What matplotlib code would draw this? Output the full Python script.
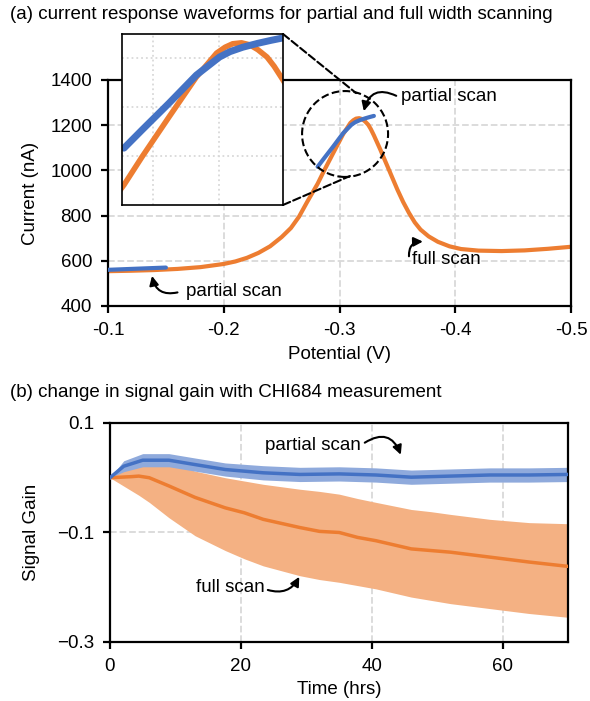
import matplotlib.pyplot as plt
from matplotlib.patches import Ellipse, ConnectionPatch

plt.rcParams['font.family'] = ['Liberation Sans', 'DejaVu Sans']
plt.rcParams['font.size'] = 13.5

# (a) voltammograms
full_v = [-0.100, -0.120, -0.140, -0.160, -0.180, -0.200, -0.210, -0.220, -0.230,
          -0.240, -0.250, -0.258, -0.265, -0.272, -0.2811, -0.2866, -0.2949,
          -0.3032, -0.3094, -0.312, -0.3143, -0.317, -0.3195, -0.322, -0.3248,
          -0.327, -0.3297, -0.335, -0.340,
          -0.345, -0.350, -0.355, -0.360, -0.365, -0.370, -0.377, -0.385, -0.395,
          -0.405, -0.420, -0.440, -0.460, -0.480, -0.500]
full_i = [554, 556, 559, 564, 572, 586, 597, 613, 635,
          664, 705, 745, 795, 860, 941, 998, 1080,
          1161, 1210, 1222, 1229, 1231, 1227, 1217, 1202,
          1183, 1155, 1095, 1035,
          975, 915, 860, 812, 770, 738, 708, 684, 664,
          652, 645, 643, 646, 653, 662]
part_lo_v = [-0.100, -0.125, -0.150]
part_lo_i = [560, 565, 570]
part_hi_v = [-0.2811, -0.2866, -0.2949, -0.3032, -0.3103, -0.3135, -0.3174,
             -0.322, -0.326, -0.3297]
part_hi_i = [1016, 1053, 1108, 1165, 1202, 1213, 1222, 1230, 1236, 1241]

# (b) signal gain over time
t_part = [0, 2.1, 5, 9, 13, 17.6, 23.4, 29, 35, 40.6, 46, 52, 58, 64, 70]
g_part = [0.0, 0.021, 0.032, 0.032, 0.024, 0.015, 0.009, 0.006, 0.007, 0.005,
          0.001, 0.003, 0.005, 0.005, 0.006]
e_part = [0.0, 0.010, 0.012, 0.012, 0.012, 0.012, 0.013, 0.013, 0.013, 0.013,
          0.013, 0.013, 0.013, 0.013, 0.013]
t_full = [0, 3.3, 4.4, 6, 9, 13, 17.6, 20.5, 23.4, 29, 32, 35, 37.8, 40.6, 46,
          49, 52, 58, 64, 70]
g_full = [0.0, 0.002, 0.003, 0.0, -0.015, -0.036, -0.055, -0.064, -0.076, -0.091,
          -0.098, -0.100, -0.109, -0.115, -0.130, -0.133, -0.136, -0.145, -0.154,
          -0.162]
g_full_hi = [0.0, 0.021, 0.034, 0.038, 0.027, 0.012, 0.0, -0.006, -0.012, -0.021,
             -0.025, -0.030, -0.038, -0.045, -0.058, -0.062, -0.067, -0.076,
             -0.082, -0.084]
g_full_lo = [0.0, -0.024, -0.032, -0.045, -0.073, -0.106, -0.133, -0.148, -0.161,
             -0.179, -0.186, -0.191, -0.197, -0.203, -0.218, -0.224, -0.230,
             -0.239, -0.248, -0.255]

orange = '#ED7D31'
blue = '#4472C4'
grid_kw = dict(color='#D9D9D9', linestyle='--', linewidth=1.3)
arrow_kw = dict(arrowstyle='-|>', color='black', lw=1.5, shrinkA=0, shrinkB=0)

fig = plt.figure(figsize=(5.9, 7.01), dpi=100)
ax1 = fig.add_axes([0.1831, 0.5635, 0.7847, 0.3224])
ax2 = fig.add_axes([0.1864, 0.0842, 0.7771, 0.3124])
axin = fig.add_axes([0.2068, 0.7076, 0.2729, 0.2439], zorder=5)

for ax in (ax1, ax2):
    for s in ax.spines.values():
        s.set_linewidth(1.6)
    ax.tick_params(direction='out', length=5, width=1.6, labelsize=13.5, pad=6.5)
    ax.set_axisbelow(True)

# ---- panel (a)
ax1.plot(full_v, full_i, color=orange, lw=3, solid_capstyle='round', zorder=2)
ax1.plot(part_lo_v, part_lo_i, color=blue, lw=3, solid_capstyle='round', zorder=3)
ax1.plot(part_hi_v, part_hi_i, color=blue, lw=3, solid_capstyle='round', zorder=3)
ax1.set_xlim(-0.1, -0.5)
ax1.set_ylim(400, 1400)
ax1.set_xticks([-0.1, -0.2, -0.3, -0.4, -0.5])
ax1.set_xticklabels(['-0.1', '-0.2', '-0.3', '-0.4', '-0.5'])
ax1.set_yticks([400, 600, 800, 1000, 1200, 1400])
ax1.grid(True, **grid_kw)
ax1.set_xlabel('Potential (V)', labelpad=5)
ax1.set_ylabel('Current (nA)', labelpad=8)

circ = Ellipse((-0.3048, 1161), 0.0743, 380, fill=False, ls='--', lw=1.5,
               color='black', zorder=4)
ax1.add_patch(circ)

ax1.text(-0.353, 1325, 'partial scan', va='center', ha='left')
ax1.annotate('', xy=(-0.321, 1262), xytext=(-0.349, 1330),
             arrowprops=dict(connectionstyle='arc3,rad=0.6', **arrow_kw))
ax1.text(-0.363, 604, 'full scan', va='center', ha='left')
ax1.annotate('', xy=(-0.372, 685), xytext=(-0.36, 620),
             arrowprops=dict(connectionstyle='arc3,rad=-0.5', **arrow_kw))
ax1.text(-0.167, 462, 'partial scan', va='center', ha='left')
ax1.annotate('', xy=(-0.138, 533), xytext=(-0.16, 460),
             arrowprops=dict(connectionstyle='arc3,rad=-0.5', **arrow_kw))

# inset
axin.plot(full_v, full_i, color=orange, lw=4, solid_capstyle='round')
axin.plot(part_hi_v, part_hi_i, color=blue, lw=5, solid_capstyle='round')
axin.set_xlim(-0.2805, -0.3297)
axin.set_ylim(900, 1249)
axin.set_xticks([-0.29, -0.31])
axin.set_yticks([1000, 1100, 1200])
axin.tick_params(length=0, labelbottom=False, labelleft=False)
axin.grid(True, color='#D9D9D9', linestyle=':', linewidth=1.3)
for s in axin.spines.values():
    s.set_linewidth(1.2)

for xa, xb in [((1, 1), (-0.3143, 1342)), ((1, 0), (-0.309, 975))]:
    con = ConnectionPatch(xyA=xa, coordsA=axin.transAxes, xyB=xb, coordsB=ax1.transData,
                          ls='--', lw=1.5, color='black', zorder=6)
    fig.add_artist(con)

# ---- panel (b)
ax2.fill_between(t_full, g_full_lo, g_full_hi, color='#F4B183', lw=0, zorder=1)
ax2.fill_between(t_part, [g - e for g, e in zip(g_part, e_part)],
                 [g + e for g, e in zip(g_part, e_part)], color='#8FAADC', lw=0, zorder=2)
ax2.plot(t_full, g_full, color=orange, lw=2.5, zorder=3)
ax2.plot(t_part, g_part, color=blue, lw=2.5, zorder=4)
ax2.set_xlim(0, 70)
ax2.set_ylim(-0.3, 0.1)
ax2.set_xticks([0, 20, 40, 60])
ax2.set_yticks([0.1, -0.1, -0.3])
ax2.set_yticklabels(['0.1', '\u22120.1', '\u22120.3'])
ax2.grid(True, **grid_kw)
ax2.set_xlabel('Time (hrs)', labelpad=4)
ax2.set_ylabel('Signal Gain', labelpad=12)

ax2.text(23.7, 0.058, 'partial scan', va='center', ha='left')
ax2.annotate('', xy=(44.4, 0.042), xytext=(38.9, 0.064),
             arrowprops=dict(connectionstyle='arc3,rad=-0.6', **arrow_kw))
ax2.text(13.2, -0.201, 'full scan', va='center', ha='left')
ax2.annotate('', xy=(28.9, -0.181), xytext=(24.1, -0.205),
             arrowprops=dict(connectionstyle='arc3,rad=0.4', **arrow_kw))

fig.text(0.017, 0.98, '(a) current response waveforms for partial and full width scanning',
         va='center', ha='left', fontsize=13.5)
fig.text(0.017, 0.44, '(b) change in signal gain with CHI684 measurement',
         va='center', ha='left', fontsize=13.5)

fig.savefig('out.png', dpi=100)
